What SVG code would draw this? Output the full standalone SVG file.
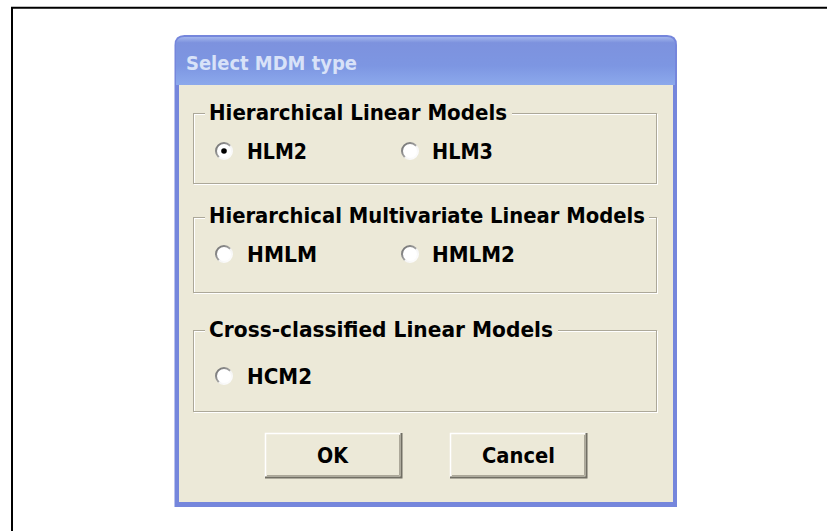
<svg xmlns="http://www.w3.org/2000/svg" width="827" height="531" viewBox="0 0 827 531">
  <defs>
    <linearGradient id="titleGrad" x1="0" y1="0" x2="0" y2="1">
      <stop offset="0" stop-color="#A3B6EC"/>
      <stop offset="0.12" stop-color="#7D92DE"/>
      <stop offset="0.6" stop-color="#7D96E2"/>
      <stop offset="1" stop-color="#8CA9EC"/>
    </linearGradient>
    <linearGradient id="radioStroke" x1="0" y1="0" x2="1" y2="1">
      <stop offset="0" stop-color="#6E6E6E"/>
      <stop offset="0.5" stop-color="#A0A0A0"/>
      <stop offset="0.55" stop-color="#F4F4F4"/>
      <stop offset="1" stop-color="#FFFFFF"/>
    </linearGradient>
    <style>
      .t { font-family: "DejaVu Sans", "Liberation Sans", sans-serif; font-weight: bold; font-size: 21px; fill: #000000; }
      .title { font-family: "DejaVu Sans", "Liberation Sans", sans-serif; font-weight: bold; font-size: 20px; fill: #D8E2F8; }
      .gdark { fill: none; stroke: #ACA899; stroke-width: 1; }
      .glight { fill: none; stroke: #FFFFFF; stroke-width: 1; }
      .lblbg { fill: #ECE9D8; }
      .radio { fill: #FFFFFF; stroke: url(#radioStroke); stroke-width: 2; }
      .btnface { fill: #ECE9D8; }
    </style>
  </defs>

  <rect x="0" y="0" width="827" height="531" fill="#FFFFFF"/>

  <g id="frame">
    <path d="M12 531 V7.7 H827" fill="none" stroke="#000000" stroke-width="2"/>
  </g>

  <g id="dialog">
    <path d="M174.5 507 V45 Q174.5 35 184.5 35 H667 Q677 35 677 45 V507 Z" fill="#7586DC"/>
    <path d="M176 85 V45 Q176 37 184.5 37 H667 Q675 37 675 45 V85 Z" fill="url(#titleGrad)"/>
    <rect x="179" y="85" width="494" height="417" fill="#ECE9D8"/>
    <text class="title" x="186" y="70" textLength="171" lengthAdjust="spacingAndGlyphs">Select MDM type</text>
  </g>

  <g id="group-hlm">
    <rect class="glight" x="194.5" y="114.5" width="463" height="70"/>
    <rect class="gdark" x="193.5" y="113.5" width="463" height="70"/>
    <rect class="lblbg" x="205" y="103" width="307" height="14"/>
    <text class="t" x="209" y="120" textLength="298" lengthAdjust="spacingAndGlyphs">Hierarchical Linear Models</text>
  </g>
  <g id="radio-hlm2">
    <circle class="radio" cx="224" cy="151" r="8"/>
    <circle cx="224" cy="151" r="2.8" fill="#000000"/>
    <text class="t" x="247" y="159" textLength="60" lengthAdjust="spacingAndGlyphs">HLM2</text>
  </g>
  <g id="radio-hlm3">
    <circle class="radio" cx="410" cy="151" r="8"/>
    <text class="t" x="432" y="159" textLength="61" lengthAdjust="spacingAndGlyphs">HLM3</text>
  </g>

  <g id="group-hmlm">
    <rect class="glight" x="194.5" y="218.5" width="463" height="75"/>
    <rect class="gdark" x="193.5" y="217.5" width="463" height="75"/>
    <rect class="lblbg" x="205" y="207" width="444" height="14"/>
    <text class="t" x="209" y="223" textLength="436" lengthAdjust="spacingAndGlyphs">Hierarchical Multivariate Linear Models</text>
  </g>
  <g id="radio-hmlm">
    <circle class="radio" cx="224" cy="254" r="8"/>
    <text class="t" x="247" y="262" textLength="70" lengthAdjust="spacingAndGlyphs">HMLM</text>
  </g>
  <g id="radio-hmlm2">
    <circle class="radio" cx="410" cy="254" r="8"/>
    <text class="t" x="432" y="262" textLength="83" lengthAdjust="spacingAndGlyphs">HMLM2</text>
  </g>

  <g id="group-hcm">
    <rect class="glight" x="194.5" y="331.5" width="463" height="81"/>
    <rect class="gdark" x="193.5" y="330.5" width="463" height="81"/>
    <rect class="lblbg" x="205" y="320" width="353" height="14"/>
    <text class="t" x="209" y="337" textLength="344" lengthAdjust="spacingAndGlyphs">Cross-classified Linear Models</text>
  </g>
  <g id="radio-hcm2">
    <circle class="radio" cx="224" cy="376" r="8"/>
    <text class="t" x="247" y="384" textLength="65" lengthAdjust="spacingAndGlyphs">HCM2</text>
  </g>

  <g id="btn-ok">
    <rect class="btnface" x="265" y="433" width="137" height="45"/>
    <path d="M265.5 477.5 V433.5 H401.5" fill="none" stroke="#FFFFFF" stroke-width="1.5"/>
    <path d="M265 477.5 H401.5 V433" fill="none" stroke="#716F64" stroke-width="2"/>
    <path d="M267 475.5 H399.5 V435" fill="none" stroke="#ACA899" stroke-width="1"/>
    <text class="t" x="317" y="463" textLength="31" lengthAdjust="spacingAndGlyphs">OK</text>
  </g>
  <g id="btn-cancel">
    <rect class="btnface" x="450" y="433" width="137" height="45"/>
    <path d="M450.5 477.5 V433.5 H586.5" fill="none" stroke="#FFFFFF" stroke-width="1.5"/>
    <path d="M450 477.5 H586.5 V433" fill="none" stroke="#716F64" stroke-width="2"/>
    <path d="M452 475.5 H584.5 V435" fill="none" stroke="#ACA899" stroke-width="1"/>
    <text class="t" x="482" y="463" textLength="73" lengthAdjust="spacingAndGlyphs">Cancel</text>
  </g>

  <g id="connectors"></g>
</svg>
